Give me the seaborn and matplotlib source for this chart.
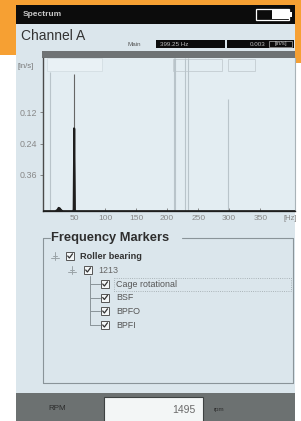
import matplotlib
matplotlib.use("Agg")
import matplotlib.pyplot as plt
import seaborn as sns
import pandas as pd
from matplotlib.patches import Rectangle

sns.set_theme(style="white")
plt.rcParams['font.family'] = ['Liberation Sans', 'DejaVu Sans']

# ---------------- data ----------------
freq_hz = [0, 20, 23, 25, 27, 29, 32, 48, 49, 50, 51, 52, 406]
level = [0.50, 0.50, 0.495, 0.487, 0.489, 0.496, 0.50, 0.50, 0.495, 0.18, 0.495, 0.50, 0.50]
marker_hz = [11, 50, 211, 212, 229, 234, 298]
marker_top = [-0.035, -0.03, -0.09, -0.09, -0.09, -0.09, 0.067]
x_ticks = [50, 100, 150, 200, 250, 300, 350]
y_ticks = [0.12, 0.24, 0.36]
y_tick_labels = ["0.12", "0.24", "0.36"]
tree_items = ["Cage rotational", "BSF", "BPFO", "BPFI"]
cursor_freq = "399.25 Hz"
cursor_value = "0.003"
rpm_value = "1495"

W, H = 301, 421
fig = plt.figure(figsize=(W / 100, H / 100), dpi=100)
fig.patch.set_facecolor("white")

ov = fig.add_axes([0, 0, 1, 1])
ov.set_xlim(0, W)
ov.set_ylim(H, 0)
ov.axis("off")
ov.set_zorder(0)

def rect(x0, y0, x1, y1, fc, ec="none", lw=0, z=1, ls="-"):
    ov.add_patch(Rectangle((x0, y0), x1 - x0, y1 - y0, facecolor=fc,
                           edgecolor=ec, linewidth=lw, zorder=z, linestyle=ls))

ORANGE = "#f6a033"
BG = "#dbe6ec"
# orange backdrop
rect(0, 0, W, 55, ORANGE, z=0)
rect(290, 0, W, 63, ORANGE, z=0)
# screen
rect(16, 5, 295, H, BG, z=1)
# title bar
rect(16, 5, 295, 24, "#0c0c0c", z=2)
ov.text(23, 14.5, "Spectrum", color="#c8c8c8", fontsize=6, fontweight="bold",
        va="center", ha="left", zorder=3)
# battery
rect(256, 9, 289, 20, "#0c0c0c", ec="white", lw=0.9, z=3)
rect(272, 10, 289, 19, "white", z=4)
rect(289, 12, 292, 17, "white", z=4)

# header
ov.text(21, 36, "Channel A", color="#333333", fontsize=10, va="center",
        ha="left", zorder=3)
ov.text(128, 44, "Main", color="#555", fontsize=4.5, va="center", zorder=3)
rect(156, 40, 225, 48, "#0c0c0c", z=3)
rect(227, 40, 294, 48, "#0c0c0c", z=3)
ov.text(160, 44, cursor_freq, color="#bbb", fontsize=4.5, va="center", zorder=4)
ov.text(266, 44, cursor_value, color="#bbb", fontsize=4.5, va="center",
        ha="right", zorder=4)
rect(269, 41, 292, 47, "#0c0c0c", ec="#999", lw=0.6, z=4)
ov.text(280.5, 44, "[in/s]", color="#bbb", fontsize=4.2, va="center",
        ha="center", zorder=5)

# dark band above plot
rect(42, 51, 295, 58, "#6f7375", z=3)
ov.text(17, 67, "[in/s]", color="#777", fontsize=5.5, va="center", zorder=3)

# ---------------- spectrum plot ----------------
ax = fig.add_axes([43 / W, 1 - 211 / H, (295 - 43) / W, (211 - 58) / H])
ax.set_zorder(2)
ax.set_facecolor("#e3edf2")
ax.set_xlim(0, 406)
ax.set_ylim(0.50, -0.09)

# pale header boxes inside plot
ax.add_patch(Rectangle((7, -0.09), 88, 0.052, facecolor="#e9f1f5",
                       edgecolor="#d0dadf", lw=0.5, zorder=1))
for x0, w in [(210, 79), (298, 44)]:
    ax.add_patch(Rectangle((x0, -0.086), w, 0.048, facecolor="none",
                           edgecolor="#c3ccd1", lw=0.6, zorder=1))

mcolors = ["#b9c4ca", "#666", "#b9c4ca", "#b9c4ca", "#b9c4ca", "#b9c4ca", "#b9c4ca"]
for f, t, c in zip(marker_hz, marker_top, mcolors):
    ax.vlines(f, t, 0.50, color=c, lw=0.8, zorder=2)

spec = pd.DataFrame({"freq": freq_hz, "level": level})
sns.lineplot(data=spec, x="freq", y="level", ax=ax, color="#1e1e1e",
             lw=1.1, sort=False, zorder=3)
ax.fill_between(freq_hz, level, 0.50, color="#1e1e1e", zorder=3)

ax.set_xticks(x_ticks)
ax.set_xticklabels([str(v) for v in x_ticks])
ax.set_yticks(y_ticks)
ax.set_yticklabels(y_tick_labels)
ax.set_xlabel("")
ax.set_ylabel("")
ax.tick_params(axis="x", direction="in", length=2, width=0.6, color="#777",
               labelsize=6, labelcolor="#888", pad=3, bottom=True)
ax.tick_params(axis="y", direction="out", length=2, width=0.6, color="#777",
               labelsize=6.4, labelcolor="#888", pad=2.5, left=True)
for s in ["left", "bottom"]:
    ax.spines[s].set_color("#4a4a4a")
    ax.spines[s].set_linewidth(1.0)
ax.spines["right"].set_color("#a9b3b8")
ax.spines["right"].set_linewidth(0.8)
ax.spines["top"].set_visible(False)
ov.text(284, 218, "[Hz]", color="#888", fontsize=5.5, va="center", ha="left",
        zorder=3)

# ---------------- frequency markers panel ----------------
GB = "#8a9499"
ov.plot([43, 43], [238, 383], color=GB, lw=0.8, zorder=3)
ov.plot([43, 293], [383, 383], color=GB, lw=0.8, zorder=3)
ov.plot([293, 293], [238, 383], color=GB, lw=0.8, zorder=3)
ov.plot([43, 50], [238, 238], color=GB, lw=0.8, zorder=3)
ov.plot([182, 293], [238, 238], color=GB, lw=0.8, zorder=3)
ov.text(51, 238, "Frequency Markers", color="#2e2e2e", fontsize=9.3,
        fontweight="bold", va="center", ha="left", zorder=3)

def checkbox(cx, cy):
    rect(cx - 4, cy - 4, cx + 4, cy + 4, "#f4f7f8", ec="#555", lw=0.7, z=4)
    ov.plot([cx - 2.3, cx - 0.6, cx + 2.5], [cy, cy + 2, cy - 2.2],
            color="#333", lw=0.9, zorder=5)

def collapse_icon(cx, cy):
    ov.plot([cx - 4, cx + 4], [cy + 1, cy + 1], color="#9aa3a7", lw=0.7, zorder=4)
    ov.plot([cx - 2, cx + 2], [cy - 1, cy - 1], color="#9aa3a7", lw=0.7, zorder=4)
    ov.plot([cx, cx], [cy - 5, cy + 3], color="#9aa3a7", lw=0.7, zorder=4)

collapse_icon(55, 257)
checkbox(70, 256)
ov.text(80, 256.5, "Roller bearing", color="#333", fontsize=6.6,
        fontweight="bold", va="center", zorder=4)
collapse_icon(72, 271)
checkbox(88, 270)
ov.text(98, 270.5, "1213", color="#666", fontsize=6.4, va="center", zorder=4)

child_y = [284, 297.5, 311, 325]
ov.plot([90, 90], [276, child_y[-1]], color="#8a9499", lw=0.7, zorder=3)
for yy, label in zip(child_y, tree_items):
    ov.plot([90, 100], [yy, yy], color="#8a9499", lw=0.7, zorder=3)
    checkbox(105, yy)
    ov.text(116, yy + 0.5, label, color="#555", fontsize=6.4, va="center",
            zorder=4)
rect(114, 277.5, 291, 291, "none", ec="#9aa3a7", lw=0.6, z=4, ls=":")

# ---------------- bottom bar ----------------
rect(16, 393, 295, H, "#6c7171", z=3)
ov.text(48, 408, "RPM", color="#2c2c2c", fontsize=5.8, va="center", zorder=4)
rect(104, 397, 203, H + 2, "#f3f6f6", ec="#3e4242", lw=0.8, z=4)
ov.text(195, 410, rpm_value, color="#6a6a6a", fontsize=7.5, va="center",
        ha="right", zorder=5)
ov.text(214, 410, "rpm", color="#2c2c2c", fontsize=4.5, va="center", zorder=4)

fig.savefig("out.png", dpi=100)
